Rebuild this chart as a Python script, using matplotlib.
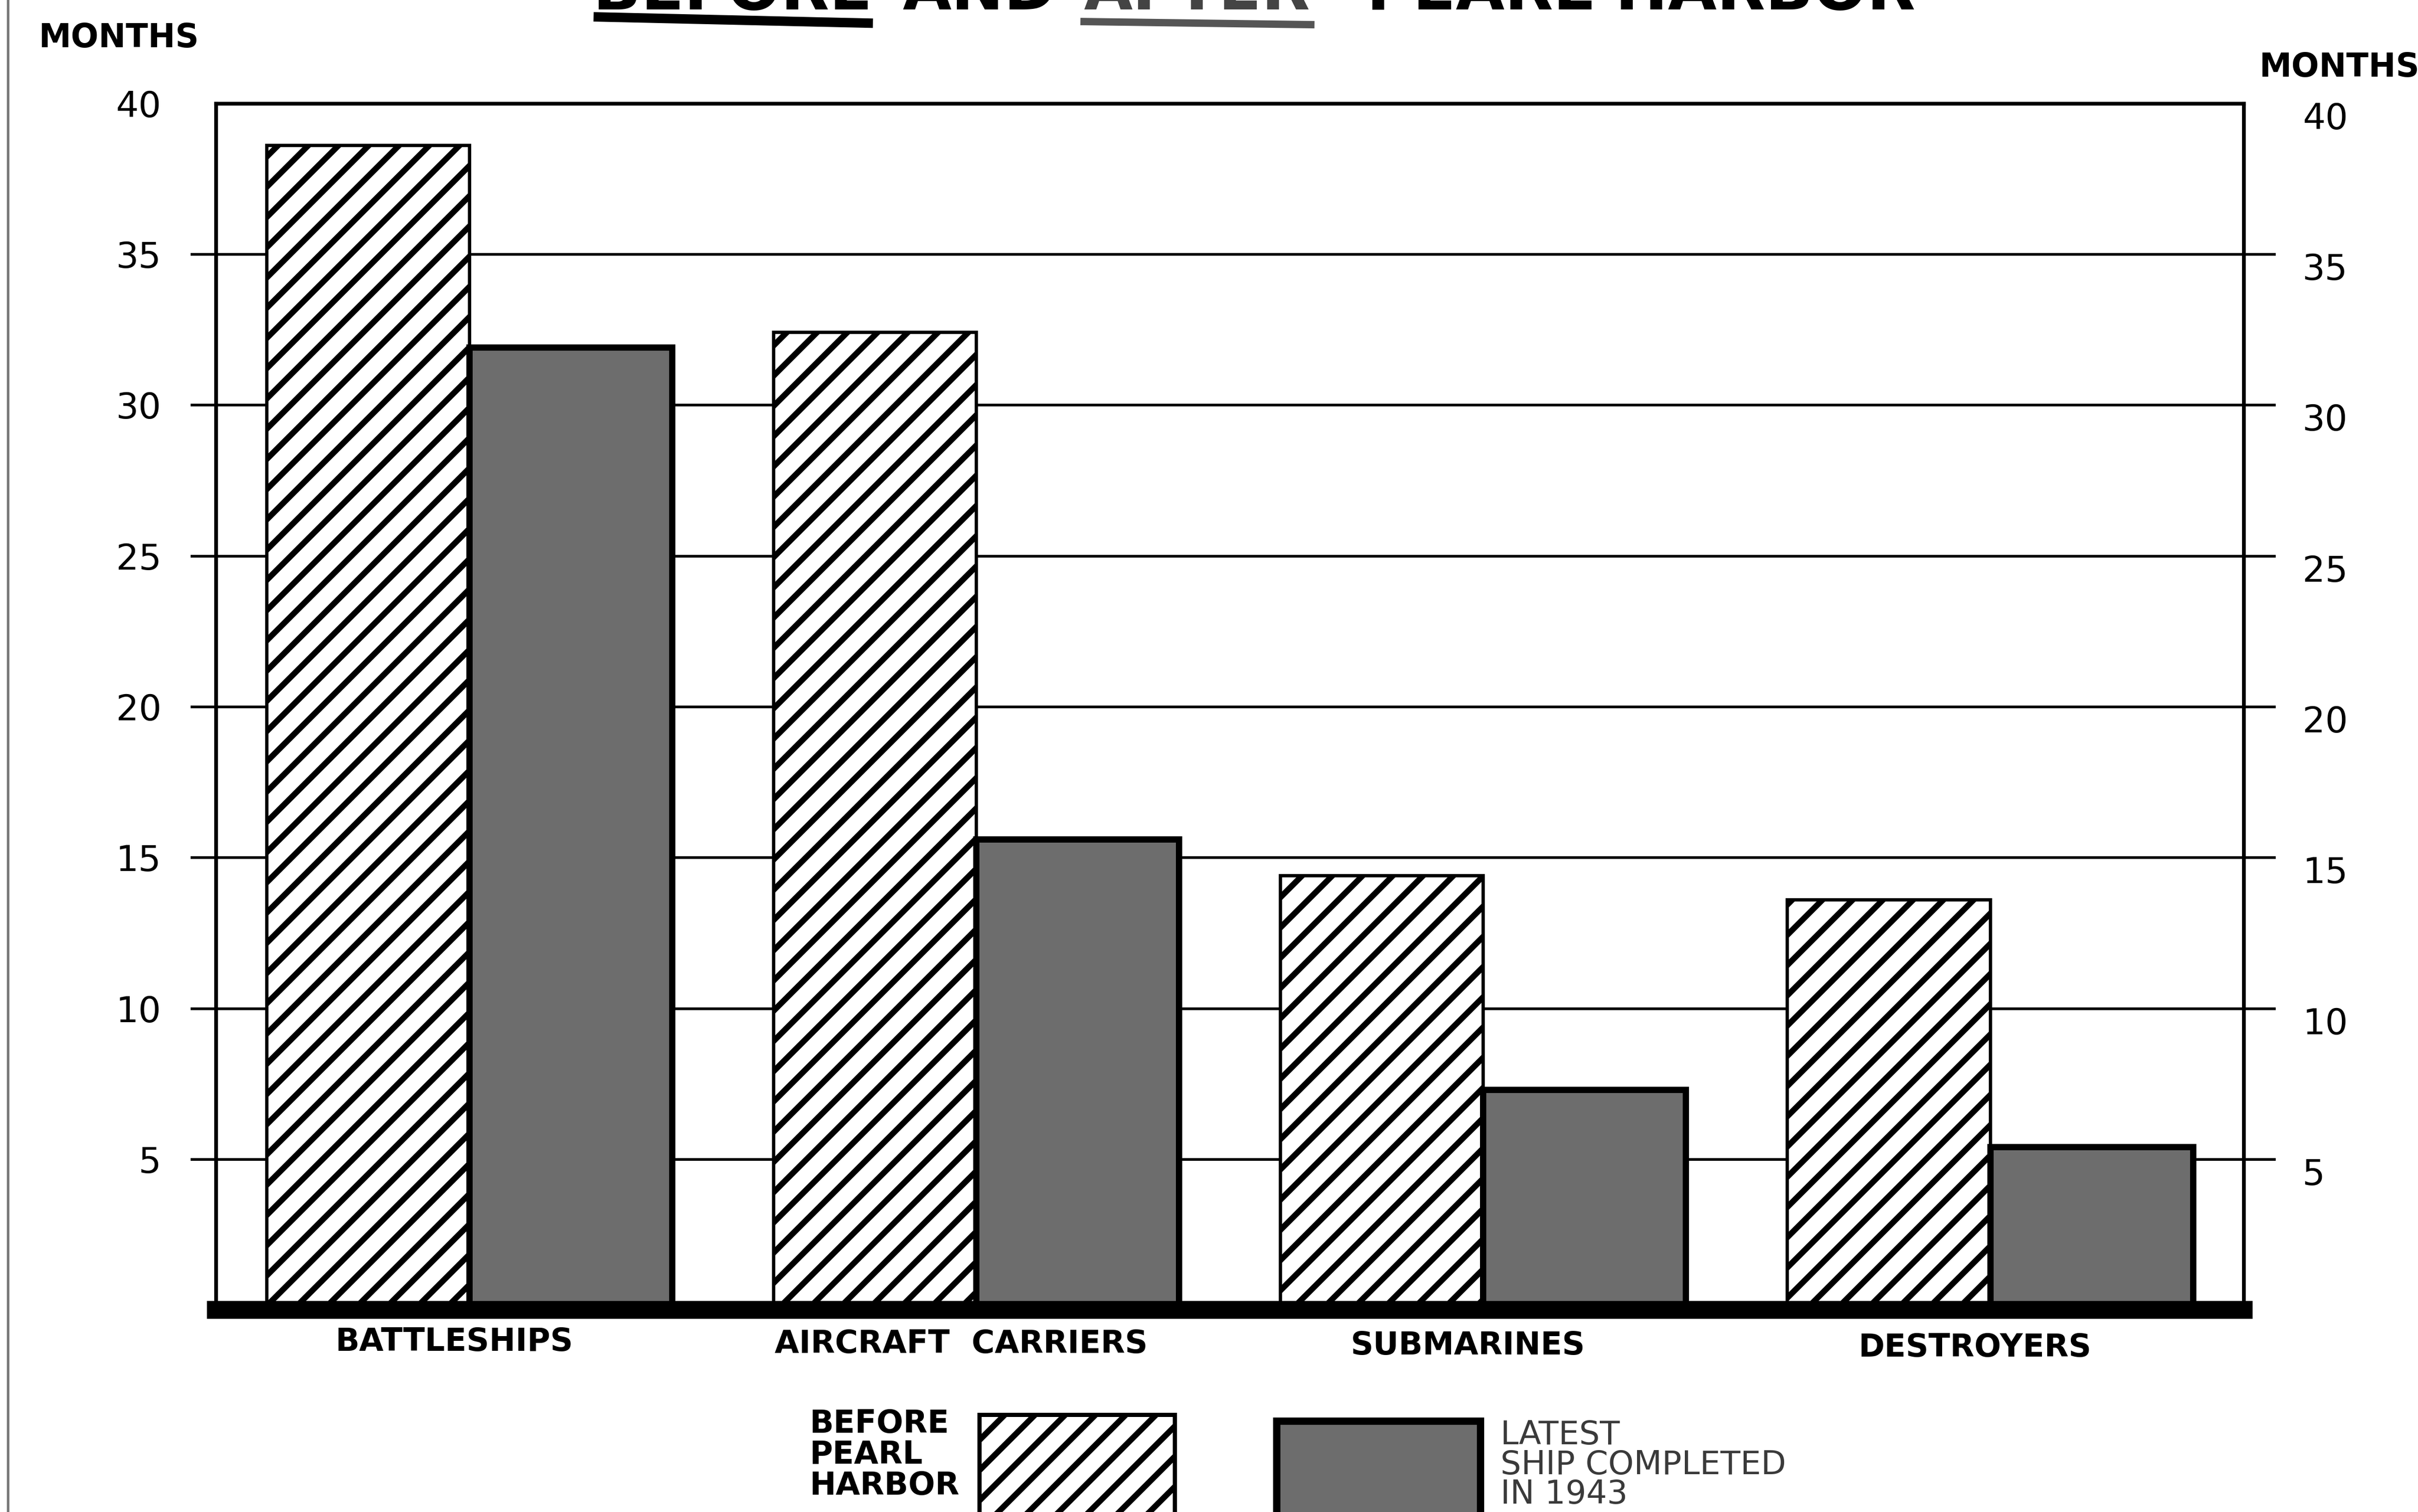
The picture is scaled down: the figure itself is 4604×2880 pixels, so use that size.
import numpy as np
import matplotlib
matplotlib.use("Agg")
import matplotlib.pyplot as plt
import matplotlib.hatch as mhatch
import matplotlib.transforms as mtransforms
from matplotlib.patches import Rectangle
from matplotlib.lines import Line2D

# months to build
categories = ["BATTLESHIPS", "AIRCRAFT  CARRIERS", "SUBMARINES", "DESTROYERS"]
before_pearl = [38.6, 32.4, 14.4, 13.6]
latest_1943 = [31.9, 15.6, 7.3, 5.4]
grid_levels = [5, 10, 15, 20, 25, 30, 35]
tick_values = [5, 10, 15, 20, 25, 30, 35, 40]
tick_labels = ["5", "10", "15", "20", "25", "30", "35", "40"]

# placement helpers (measured on a 1568x981 preview of the page)
W, H = 1568, 981


def fx(x):
    return x / W


def fy(y):
    return 1 - y / H


# '/' hatch a bit sparser than '//' (10 lines per unit instead of 12)
class WideDiagonal(mhatch.NorthEastHatch):
    def __init__(self, hatch, density):
        self.num_lines = 10 * hatch.count('/')
        self.num_vertices = (self.num_lines + 1) * 2 if self.num_lines else 0


mhatch._hatch_types = [WideDiagonal if t is mhatch.NorthEastHatch else t
                       for t in mhatch._hatch_types]

plt.rcParams['font.family'] = ['DejaVu Sans']
plt.rcParams['hatch.linewidth'] = 2.8
plt.rcParams['hatch.color'] = 'black'

fig = plt.figure(figsize=(4604 / 288, 2880 / 288), dpi=288)
fig.patch.set_facecolor('white')
ax = fig.add_axes([fx(140), fy(850), fx(1455) - fx(140), fy(67) - fy(850)])

x = np.arange(len(categories))
w = 0.4

# grid lines run a little past the frame on both sides
for g in grid_levels:
    ax.axhline(g, xmin=-0.012, xmax=1.015, color='black', lw=1.3, zorder=1, clip_on=False)

ax.bar(x - w / 2, before_pearl, w, facecolor='white', edgecolor='black',
       hatch='/', lw=1.6, zorder=3)
ax.bar(x + w / 2, latest_1943, w, facecolor='#6d6d6d', edgecolor='black',
       lw=3, zorder=3)

ax.set_xlim(-0.5, 3.5)
ax.set_ylim(0, 40)
ax.set_xticks(x, categories)
ax.tick_params(axis='x', length=0, pad=8, labelsize=15)
# the scan is slightly tilted: labels sit a bit left of the bar pairs
shift_left = mtransforms.ScaledTranslation(-0.1, 0, fig.dpi_scale_trans)
for i, lbl in enumerate(ax.get_xticklabels()):
    lbl.set_fontweight('bold')
    lbl.set_transform(lbl.get_transform() + shift_left +
                      mtransforms.ScaledTranslation(0, -0.012 * i, fig.dpi_scale_trans))
ax.set_yticks(tick_values, tick_labels)
ax.tick_params(axis='y', length=0, pad=26, labelsize=17)

for side in ['top', 'left', 'right']:
    ax.spines[side].set_linewidth(1.8)
ax.spines['bottom'].set_linewidth(8.5)
ax.spines['bottom'].set_zorder(5)

twin = ax.twinx()
twin.set_ylim(0, 40)
twin.set_yticks(tick_values, tick_labels)
twin.tick_params(axis='y', length=0, pad=28, labelsize=17)
shift_down = mtransforms.ScaledTranslation(0, -0.08, fig.dpi_scale_trans)
for lbl in twin.get_yticklabels():
    lbl.set_transform(lbl.get_transform() + shift_down)
for s in twin.spines.values():
    s.set_visible(False)

# title, mostly cut off at the top of the page
title_words = [("BEFORE", 475), ("AND", 635), ("AFTER", 776), ("PEARL HARBOR", 1064)]
for word, cx in title_words:
    fig.text(fx(cx), fy(6), word, ha='center', va='baseline', fontsize=30,
             fontweight='bold', color='black' if word != "AFTER" else '#444')
fig.add_artist(Line2D([fx(388), fx(563)], [fy(11), fy(15)], transform=fig.transFigure,
                      color='black', lw=4.5))
fig.add_artist(Line2D([fx(703), fx(850)], [fy(14), fy(16)], transform=fig.transFigure,
                      color='#555555', lw=3.5))

# page edge
fig.add_artist(Line2D([fx(5), fx(5)], [0, 1], transform=fig.transFigure,
                      color='#777777', lw=1.2))

fig.text(fx(25), fy(25), "MONTHS", ha='left', va='center', fontsize=15.5, fontweight='bold')
fig.text(fx(1465), fy(44), "MONTHS", ha='left', va='center', fontsize=15.5, fontweight='bold')

# legend, drawn by hand below the chart
fig.text(fx(525), fy(914), "BEFORE\nPEARL\nHARBOR", ha='left', va='top',
         fontsize=15, fontweight='bold', linespacing=1.0)
fig.add_artist(Rectangle((fx(635), fy(1000)), fx(762) - fx(635), fy(918) - fy(1000),
                         transform=fig.transFigure, facecolor='white', edgecolor='black',
                         hatch='/', lw=2))
fig.add_artist(Rectangle((fx(828), fy(1000)), fx(960) - fx(828), fy(922) - fy(1000),
                         transform=fig.transFigure, facecolor='#6d6d6d', edgecolor='black',
                         lw=3.5))
fig.text(fx(973), fy(921), "LATEST\nSHIP COMPLETED\nIN 1943", ha='left', va='top',
         fontsize=15.5, color='#3a3a3a', linespacing=0.93)

fig.savefig('out.png', dpi=288)
